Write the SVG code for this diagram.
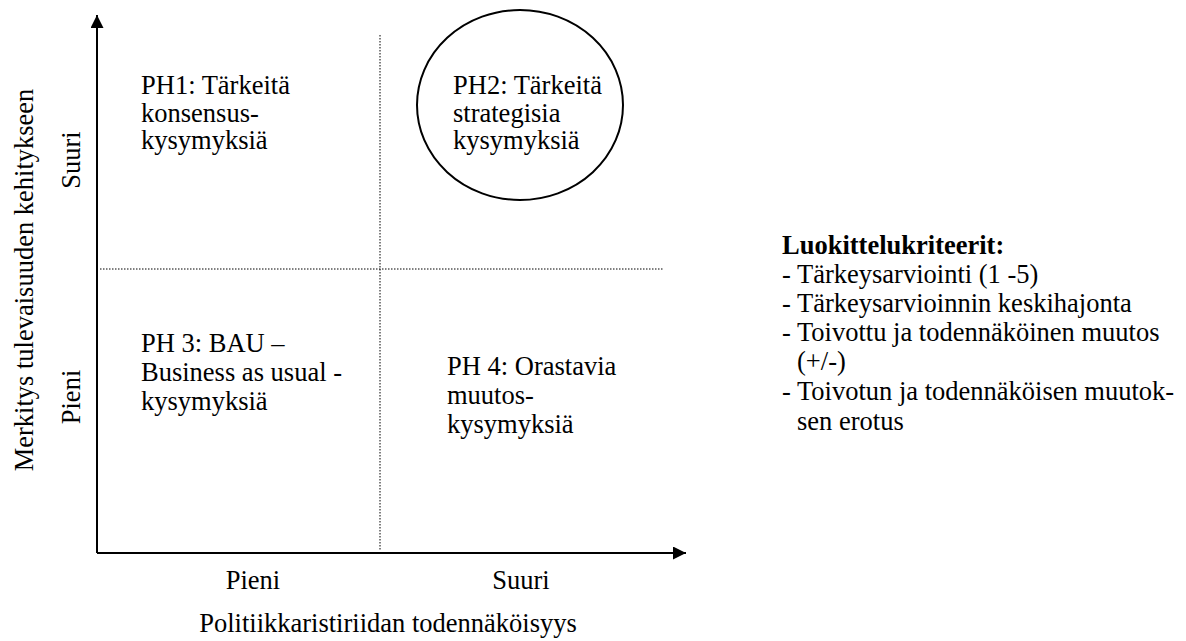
<svg xmlns="http://www.w3.org/2000/svg" width="1186" height="641" viewBox="0 0 1186 641">
<style>
text{font-family:"Liberation Serif","Times New Roman",serif;font-size:26.5px;fill:#000}
.axis{stroke:#000;stroke-width:2;fill:none}
.dot{stroke:#000;stroke-width:1;stroke-dasharray:1.5 1.5;fill:none}
.b{font-weight:bold}
</style>
<defs>
<marker id="ah" viewBox="0 0 10 10" refX="10" refY="5" markerWidth="6.5" markerHeight="6.5" markerUnits="strokeWidth" orient="auto">
<path d="M0,0 L10,5 L0,10 Z" fill="#000"/>
</marker>
</defs>
<g id="connectors">
<line class="axis" x1="97" y1="553" x2="97" y2="15" marker-end="url(#ah)"/>
<line class="axis" x1="97" y1="553" x2="686" y2="553" marker-end="url(#ah)"/>
<line class="dot" x1="380" y1="35" x2="380" y2="551"/>
<line class="dot" x1="100" y1="269" x2="663" y2="269"/>
</g>
<g id="axis-labels">
<text transform="translate(33,280) rotate(-90)" text-anchor="middle">Merkitys tulevaisuuden kehitykseen</text>
<text transform="translate(80,160) rotate(-90)" text-anchor="middle">Suuri</text>
<text transform="translate(80,397) rotate(-90)" text-anchor="middle">Pieni</text>
<text x="253" y="589" text-anchor="middle">Pieni</text>
<text x="521" y="589" text-anchor="middle">Suuri</text>
<text x="388" y="632" text-anchor="middle">Politiikkaristiriidan todennäköisyys</text>
</g>
<g id="ph1">
<text x="141" y="94">PH1: Tärkeitä</text>
<text x="141" y="121.5">konsensus-</text>
<text x="141" y="149">kysymyksiä</text>
</g>
<g id="ph2">
<ellipse cx="520" cy="105" rx="103" ry="95" fill="none" stroke="#000" stroke-width="2"/>
<text x="453" y="94">PH2: Tärkeitä</text>
<text x="453" y="121.5">strategisia</text>
<text x="453" y="149">kysymyksiä</text>
</g>
<g id="ph3">
<text x="141" y="352">PH 3: BAU –</text>
<text x="141" y="381">Business as usual -</text>
<text x="141" y="410">kysymyksiä</text>
</g>
<g id="ph4">
<text x="447" y="375">PH 4: Orastavia</text>
<text x="447" y="404">muutos-</text>
<text x="447" y="433">kysymyksiä</text>
</g>
<g id="legend">
<text x="782" y="254" class="b">Luokittelukriteerit:</text>
<text x="782" y="283">- Tärkeysarviointi (1 -5)</text>
<text x="782" y="312">- Tärkeysarvioinnin keskihajonta</text>
<text x="782" y="341">- Toivottu ja todennäköinen muutos</text>
<text x="797" y="370">(+/-)</text>
<text x="782" y="400">- Toivotun ja todennäköisen muutok-</text>
<text x="797" y="430">sen erotus</text>
</g>
</svg>
